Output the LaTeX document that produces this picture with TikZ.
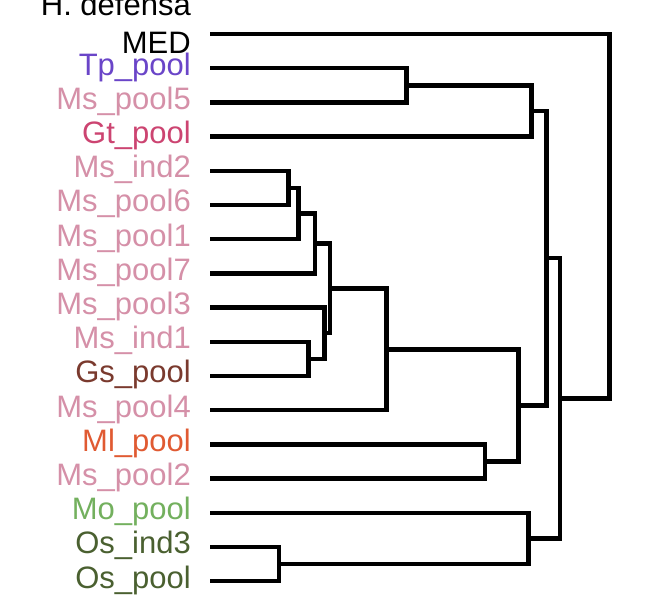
\documentclass[tikz,border=0pt]{standalone}
\usepackage{fontspec}
\setmainfont{Liberation Sans}
\usepackage{tikz}
\usetikzlibrary{calc,positioning}
\definecolor{tpcol}{HTML}{6A45C8}
\definecolor{mscol}{HTML}{D590A8}
\definecolor{gtcol}{HTML}{CC4471}
\definecolor{gscol}{HTML}{7A3A2E}
\definecolor{mlcol}{HTML}{E05A32}
\definecolor{mocol}{HTML}{73B05E}
\definecolor{oscol}{HTML}{4A6030}

\begin{document}
\begin{tikzpicture}[x=1pt,y=-1pt]
    \tikzset{
        leaf label/.style={anchor=base east, inner sep=0pt, text=#1,
            font=\fontsize{31}{38}\selectfont},
        branch/.style={draw=black, line width=4.5pt, line join=miter},
    }
    \useasboundingbox (0,0) rectangle (651,609);

    % leaves: tips of the branches and their labels
    \foreach \i/\name/\col in {1/Tp\_pool/tpcol, 2/Ms\_pool5/mscol, 3/Gt\_pool/gtcol,
        4/Ms\_ind2/mscol, 5/Ms\_pool6/mscol, 6/Ms\_pool1/mscol, 7/Ms\_pool7/mscol,
        8/Ms\_pool3/mscol, 9/Ms\_ind1/mscol, 10/Gs\_pool/gscol, 11/Ms\_pool4/mscol,
        12/Ml\_pool/mlcol, 13/Ms\_pool2/mscol, 14/Mo\_pool/mocol, 15/Os\_ind3/oscol,
        16/Os\_pool/oscol}{
        \coordinate (l\i) at (210,34+34.2*\i);
        \node[leaf label=\col] (t\i) at (191,41+34.2*\i) {\name};
    }
    \coordinate (l0) at (210,34);
    \node[anchor=south east, inner sep=0pt, align=right,
        font=\fontsize{31}{38}\selectfont] (t0) at (191,53.3) {H. defensa\\MED};

    % merge points
    \coordinate (m1) at (406.7,85.3);
    \coordinate (m2) at (531.7,110.95);
    \coordinate (m3) at (288.3,187.9);
    \coordinate (m4) at (298.3,213.55);
    \coordinate (m5) at (315,243.5);
    \coordinate (m6) at (308.3,358.9);
    \coordinate (m7) at (324.3,333.25);
    \coordinate (m8) at (330,288.4);
    \coordinate (m9) at (386.7,349.3);
    \coordinate (m10) at (485,461.5);
    \coordinate (m11) at (518.3,405.4);
    \coordinate (m12) at (546.7,258.2);
    \coordinate (m13) at (279,564.1);
    \coordinate (m14) at (528.3,538.45);
    \coordinate (m15) at (560,398.3);
    \coordinate (root) at (609.3,216.2);

    % branches
    \draw[branch] (l1) -| (m1) |- (l2);
    \draw[branch] (m1) -| (m2) |- (l3);
    \draw[branch] (l4) -| (m3) |- (l5);
    \draw[branch] (m3) -| (m4) |- (l6);
    \draw[branch] (m4) -| (m5) |- (l7);
    \draw[branch] (l9) -| (m6) |- (l10);
    \draw[branch] (l8) -| (m7) |- (m6);
    \draw[branch] (m5) -| (m8) |- (m7);
    \draw[branch] (m8) -| (m9) |- (l11);
    \draw[branch] (l12) -| (m10) |- (l13);
    \draw[branch] (m9) -| (m11) |- (m10);
    \draw[branch] (m2) -| (m12) |- (m11);
    \draw[branch] (l15) -| (m13) |- (l16);
    \draw[branch] (l14) -| (m14) |- (m13);
    \draw[branch] (m12) -| (m15) |- (m14);
    \draw[branch] (l0) -| (root) |- (m15);
\end{tikzpicture}
\end{document}
